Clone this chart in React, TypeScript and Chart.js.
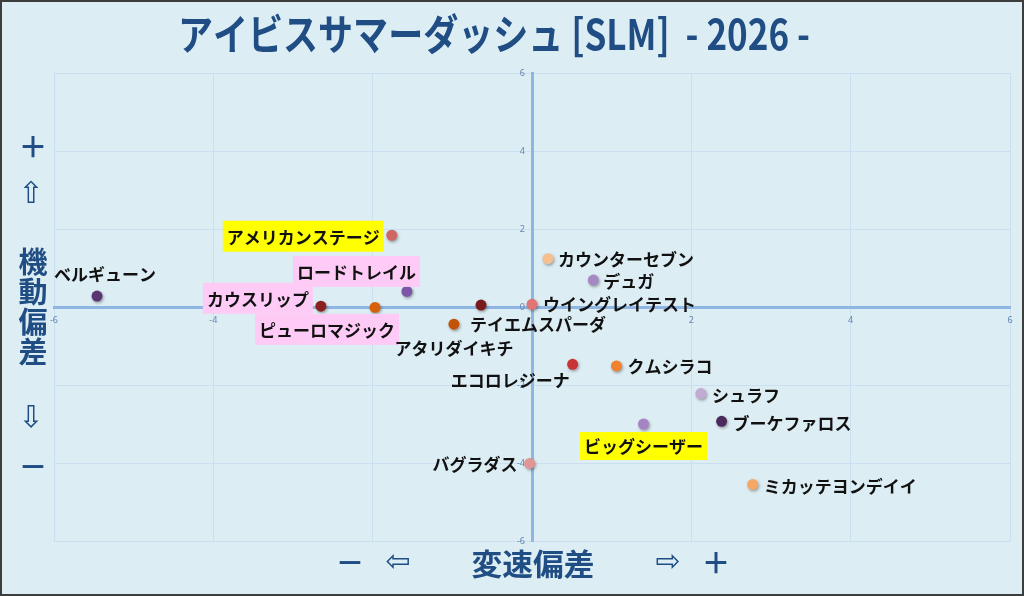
import { useEffect, useRef } from 'react';
import Chart from 'chart.js/auto';

// 馬名・変速偏差(x)・機動偏差(y)
const HORSES = [
  'ベルギューン',
  'アメリカンステージ',
  'ロードトレイル',
  'カウスリップ',
  'ピューロマジック',
  'アタリダイキチ',
  'ウイングレイテスト',
  'テイエムスパーダ',
  'カウンターセブン',
  'デュガ',
  'エコロレジーナ',
  'クムシラコ',
  'シュラフ',
  'ブーケファロス',
  'ビッグシーザー',
  'バグラダス',
  'ミカッテヨンデイイ',
];
const SPEED_DEV = [-5.46, -1.76, -1.57, -2.65, -1.97, -0.64, 0.0, -0.98, 0.2, 0.77, 0.51, 1.06, 2.12, 2.38, 1.4, -0.03, 2.77];
const MOBILITY_DEV = [0.28, 1.84, 0.4, 0.02, -0.01, 0.05, 0.07, -0.44, 1.24, 0.69, -1.47, -1.51, -2.22, -2.93, -3.0, -4.01, -4.55];
const POINT_COLORS = [
  '#5b3472', '#d06663', '#7d55a6', '#8c1f1f', '#d9600b', '#7a1b1b', '#e07575', '#c4530a',
  '#f6bf8f', '#a689c4', '#c93434', '#f0812f', '#c2abd3', '#4a2a5c', '#a584c4', '#e19595', '#f5a766',
];
const HIGHLIGHT = ['', 'yellow', 'pink', 'pink', 'pink', '', '', '', '', '', '', '', '', '', 'yellow', '', ''];

const AXIS_MIN = -6;
const AXIS_MAX = 6;
const AXIS_STEP = 2;

// label placement relative to each point: [dx, dy, align]
const LABEL_POS: [number, number, CanvasTextAlign][] = [
  [-43, -23, 'left'],
  [-12, 1, 'right'],
  [9, -20, 'right'],
  [-12, -8, 'right'],
  [20, 22, 'right'],
  [-27, 42, 'center'],
  [11, -1, 'left'],
  [16, -1, 'left'],
  [10, 0, 'left'],
  [10, 0, 'left'],
  [-3, 15, 'right'],
  [11, 0, 'left'],
  [11, 1, 'left'],
  [11, 1, 'left'],
  [0, 22, 'center'],
  [-12, 0, 'right'],
  [11, 1, 'left'],
];

const NAVY = '#1f4d84';
const JP = '"Noto Sans CJK JP", "DejaVu Sans", sans-serif';
const ARROW = '30px "DejaVu Sans", sans-serif';

function fitText(ctx: CanvasRenderingContext2D, text: string, cx: number, cy: number, font: string, width?: number) {
  ctx.save();
  ctx.font = font;
  ctx.textAlign = 'center';
  ctx.textBaseline = 'middle';
  ctx.translate(cx, cy);
  if (width) {
    const w = ctx.measureText(text).width;
    ctx.scale(width / w, 1);
  }
  ctx.fillText(text, 0, 0);
  ctx.restore();
}

const pointShadow = {
  id: 'pointShadow',
  beforeDatasetsDraw(chart: Chart) {
    const ctx = chart.ctx;
    ctx.save();
    ctx.shadowColor = 'rgba(0,0,0,0.35)';
    ctx.shadowBlur = 3;
    ctx.shadowOffsetX = 1;
    ctx.shadowOffsetY = 1.5;
  },
  afterDatasetsDraw(chart: Chart) {
    chart.ctx.restore();
  },
};

const pointLabels = {
  id: 'pointLabels',
  afterDraw(chart: Chart) {
    const ctx = chart.ctx;
    const meta = chart.getDatasetMeta(0);
    ctx.save();
    ctx.font = `bold 17px ${JP}`;
    ctx.textBaseline = 'middle';
    meta.data.forEach((pt, i) => {
      const [dx, dy, align] = LABEL_POS[i];
      const x = pt.x + dx;
      const y = pt.y + dy;
      const w = ctx.measureText(HORSES[i]).width;
      const left = align === 'left' ? x : align === 'right' ? x - w : x - w / 2;
      if (HIGHLIGHT[i]) {
        ctx.fillStyle = HIGHLIGHT[i] === 'yellow' ? '#ffff00' : '#fdcbf6';
        const h = i === 14 ? 28 : 31;
        ctx.fillRect(left - 4, y - h / 2, w + 8, h);
      }
      ctx.fillStyle = '#111111';
      ctx.textAlign = 'left';
      ctx.fillText(HORSES[i], left, y + 1);
    });
    ctx.restore();
  },
};

const captions = {
  id: 'captions',
  afterDraw(chart: Chart) {
    const ctx = chart.ctx;
    ctx.save();
    ctx.fillStyle = NAVY;
    fitText(ctx, 'アイビスサマーダッシュ [SLM]  - 2026 -', 494, 34, `bold 42px ${JP}`, 632);
    const side = `bold 29px ${JP}`;
    fitText(ctx, '＋', 33, 147, side);
    fitText(ctx, '⇧', 31, 195, ARROW);
    ['機', '動', '偏', '差'].forEach((c, i) => fitText(ctx, c, 33, 262 + i * 30, side));
    fitText(ctx, '⇩', 31, 419, ARROW);
    fitText(ctx, '－', 33, 467, side);
    fitText(ctx, '－', 350, 563, side);
    fitText(ctx, '⇦', 398, 563, ARROW);
    fitText(ctx, '変速偏差', 533, 564, `bold 30px ${JP}`, 123);
    fitText(ctx, '⇨', 668, 563, ARROW);
    fitText(ctx, '＋', 716, 563, side);
    ctx.restore();
  },
};

export default function App() {
  const canvasRef = useRef<HTMLCanvasElement>(null);
  const chartRef = useRef<Chart | null>(null);

  useEffect(() => {
    document.body.style.margin = '0';
    if (!canvasRef.current) return;
    if (chartRef.current) chartRef.current.destroy();

    const tickFont = { family: '"Noto Sans", sans-serif', size: 9 };
    const tickColor = '#6384b3';
    const gridColor = '#cadff0';
    const axisColor = '#8fb5e3';

    chartRef.current = new Chart(canvasRef.current, {
      type: 'scatter',
      data: {
        datasets: [
          {
            data: HORSES.map((_, i) => ({ x: SPEED_DEV[i], y: MOBILITY_DEV[i] })),
            pointBackgroundColor: POINT_COLORS,
            pointBorderWidth: 0,
            pointRadius: 5.5,
            pointHoverRadius: 5.5,
          },
        ],
      },
      options: {
        responsive: false,
        animation: false,
        layout: { padding: { left: 54, right: 14, top: 73, bottom: 55 } },
        plugins: { legend: { display: false }, tooltip: { enabled: false } },
        scales: {
          x: {
            type: 'linear',
            position: { y: 0 },
            min: AXIS_MIN,
            max: AXIS_MAX,
            ticks: {
              stepSize: AXIS_STEP,
              padding: 8,
              font: tickFont,
              color: tickColor,
              callback: (v) => (Number(v) === 0 ? '' : String(v)),
            },
            grid: { color: gridColor, drawTicks: false },
            border: { color: axisColor, width: 3 },
          },
          y: {
            type: 'linear',
            position: { x: 0 },
            min: AXIS_MIN,
            max: AXIS_MAX,
            ticks: {
              stepSize: AXIS_STEP,
              font: tickFont,
              color: tickColor,
              callback: (v) => `${v}   `,
            },
            grid: { color: gridColor, drawTicks: false },
            border: { color: axisColor, width: 3 },
          },
        },
      },
      plugins: [pointShadow, pointLabels, captions],
    });

    return () => {
      chartRef.current?.destroy();
      chartRef.current = null;
    };
  }, []);

  return (
    <div style={{ position: 'relative', width: 1024, height: 596, background: '#dcedf3' }}>
      <canvas ref={canvasRef} width={1024} height={596} style={{ position: 'absolute', left: 0, top: 0 }} />
      <div
        style={{
          position: 'absolute',
          inset: 0,
          border: '2px solid #3d3d3d',
          boxSizing: 'border-box',
          pointerEvents: 'none',
        }}
      />
    </div>
  );
}
